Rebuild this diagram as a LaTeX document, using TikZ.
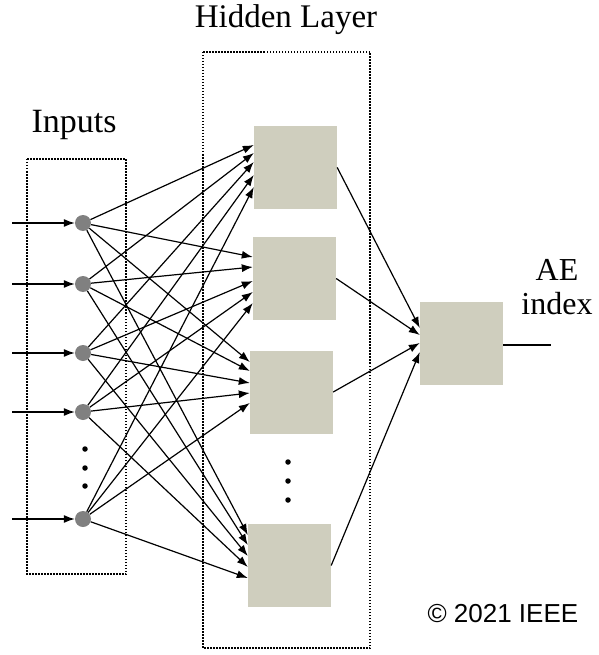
\documentclass[tikz,border=0pt]{standalone}
\usepackage{fontspec}
\setmainfont{Liberation Serif}
\newfontfamily\copyfont{Liberation Sans}
\usetikzlibrary{arrows.meta,calc}
\definecolor{boxgray}{RGB}{207,206,190}
\definecolor{nodegray}{RGB}{128,128,128}
\tikzset{
  neuron/.style = {circle, fill=nodegray, minimum size=16pt, inner sep=0pt},
  hbox/.style = {rectangle, fill=boxgray, minimum size=83pt, inner sep=0pt},
  arr/.style = {-{Latex[length=11pt,width=8pt]}, line width=1.2pt},
  layerbox/.style = {line width=1.5pt, dash pattern=on 1.5pt off 1.5pt},
  vdot/.style = {circle, fill=black, minimum size=5.5pt, inner sep=0pt}
}
\begin{document}
\begin{tikzpicture}[x=1pt,y=-1pt]
  \useasboundingbox (0,0) rectangle (598,655);
  % layer frames
  \draw[layerbox] (27,159) rectangle (126,574);
  \draw[layerbox] (203,52) rectangle (370,648);
  \node[anchor=base, font=\fontsize{34}{40}\selectfont] (inlabel) at (74,133) {Inputs};
  \node[anchor=base, font=\fontsize{33}{40}\selectfont] (hlabel) at (286,28) {Hidden Layer};
  % input neurons
  \foreach \i/\y in {1/223,2/284,3/353,4/412,5/519} {
    \node[neuron] (in\i) at (83,\y) {};
    \coordinate (s\i) at (12,\y);
    \draw[arr] (s\i) -- (in\i);
  }
  \foreach \y in {449,468,486} \node[vdot] at (85,\y) {};
  % hidden boxes
  \node[hbox] (h1) at (295.5,167.5) {};
  \node[hbox] (h2) at (294.5,278.5) {};
  \node[hbox] (h3) at (291.5,392) {};
  \node[hbox] (h4) at (289.5,565.5) {};
  \foreach \y in {462,481,500} \node[vdot] at (288,\y) {};
  % output
  \node[hbox] (out) at (461.5,343) {};
  \coordinate (outend) at (551,345);
  \draw[line width=1.2pt] (out.east |- outend) -- (outend);
  \node[align=center, font=\fontsize{32}{34}\selectfont] (aelabel) at (557,287) {AE\\index};
  % input -> hidden
  \foreach \h/\ya/\yb/\yc/\yd/\ye in {1/145/153/162/175/187, 2/257/267/281/292/303,
      3/362/371/383/393/403, 4/535/545/556/567/578}
    \foreach \i/\y in {1/\ya,2/\yb,3/\yc,4/\yd,5/\ye}
      \draw[arr] (in\i) -- (h\h.west |- 0,\y);
  % hidden -> output
  \foreach \h/\y in {1/328,2/335,3/343,4/352}
    \draw[arr] (h\h.east) -- (out.west |- 0,\y);
  \node[anchor=base west, font=\copyfont\fontsize{26}{30}\selectfont] (copy) at (424,622) {© 2021 IEEE};
\end{tikzpicture}
\end{document}
